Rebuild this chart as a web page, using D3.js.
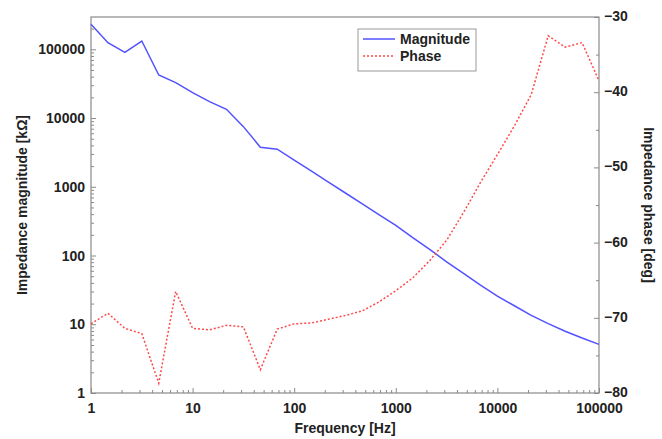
<!DOCTYPE html>
<html><head><meta charset="utf-8">
<script src="https://cdn.jsdelivr.net/npm/d3@7"></script>
<style>
html,body{margin:0;padding:0;background:#fff;}
text{font-family:"Liberation Sans",Arial,sans-serif;font-weight:bold;fill:#222;}
</style></head>
<body><svg id="c" width="662" height="439"></svg>
<script>
const freq = [1, 1.468, 2.154, 3.162, 4.642, 6.813, 10, 14.68, 21.54, 31.62, 46.42, 68.13,
  100, 146.8, 215.4, 316.2, 464.2, 681.3, 1000, 1468, 2154, 3162, 4642, 6813,
  10000, 14680, 21540, 31620, 46420, 68130, 100000];
const magnitude = [231000, 125000, 90000, 132000, 42300, 32700, 23500, 17300, 13400, 7500, 3770, 3520,
  2440, 1700, 1180, 819, 569, 395, 275, 182, 123, 81, 55, 37,
  25.7, 18.6, 13.5, 10.2, 7.9, 6.3, 5.1];
const phase = [-70.8, -69.4, -71.4, -72.1, -78.7, -66.5, -71.4, -71.6, -71.0, -71.2, -76.9, -71.5,
  -70.8, -70.7, -70.2, -69.7, -69.1, -67.9, -66.4, -64.7, -62.4, -59.7, -56.0, -52.0,
  -48.3, -44.5, -40.3, -32.5, -34.0, -33.4, -38.5];
const xTicks = [1, 10, 100, 1000, 10000, 100000];
const yTicks = [1, 10, 100, 1000, 10000, 100000];
const phaseTicks = [-80, -70, -60, -50, -40, -30];
const seriesNames = ["Magnitude", "Phase"];

const W = 662, H = 439;
const m = {l: 91, r: 63, t: 17, b: 46};
const svg = d3.select("#c");
const x = d3.scaleLog().domain([1, 100000]).range([m.l, W - m.r]);
const y = d3.scaleLog().domain([1, Math.pow(10, 5.47)]).range([H - m.b, m.t]);
const y2 = d3.scaleLinear().domain([-80, -30]).range([H - m.b, m.t]);
const axisCol = "#8a8a8a";

// frame
svg.append("rect").attr("x", m.l).attr("y", m.t)
  .attr("width", W - m.l - m.r).attr("height", H - m.t - m.b)
  .attr("fill", "none").attr("stroke", axisCol).attr("stroke-width", 1.2);

function minorLog(lo, hi) {
  const out = [];
  for (let d = lo; d < hi; d *= 10) for (let i = 2; i <= 9; i++) if (d * i <= hi) out.push(d * i);
  return out;
}
function styleAxis(g) {
  g.select(".domain").remove();
  g.selectAll("line").attr("stroke", axisCol);
  g.selectAll("text").attr("font-size", 14).attr("fill", "#222")
    .attr("font-family", "Liberation Sans, Arial, sans-serif").attr("font-weight", "bold");
}
// x axis
svg.append("g").attr("transform", `translate(0,${H - m.b})`)
  .call(d3.axisBottom(x).tickValues(minorLog(1, 100000)).tickSize(-3).tickFormat(""))
  .call(styleAxis);
svg.append("g").attr("transform", `translate(0,${H - m.b})`)
  .call(d3.axisBottom(x).tickValues(xTicks).tickSize(-5).tickPadding(10).tickFormat(d3.format("d")))
  .call(styleAxis);
// left axis
svg.append("g").attr("transform", `translate(${m.l},0)`)
  .call(d3.axisLeft(y).tickValues(minorLog(1, Math.pow(10, 5.47))).tickSize(-3).tickFormat(""))
  .call(styleAxis);
svg.append("g").attr("transform", `translate(${m.l},0)`)
  .call(d3.axisLeft(y).tickValues(yTicks).tickSize(-5).tickPadding(6).tickFormat(d3.format("d")))
  .call(styleAxis);
// right axis
svg.append("g").attr("transform", `translate(${W - m.r},0)`)
  .call(d3.axisRight(y2).tickValues([-75, -65, -55, -45, -35]).tickSize(-3).tickFormat(""))
  .call(styleAxis);
svg.append("g").attr("transform", `translate(${W - m.r},0)`)
  .call(d3.axisRight(y2).tickValues(phaseTicks).tickSize(-5).tickPadding(5).tickFormat(d3.format("d")))
  .call(styleAxis)
  .call(g => g.selectAll("text").attr("dy", "0.25em"));

// titles
svg.append("text").attr("x", (m.l + W - m.r) / 2).attr("y", 428).attr("dy", "0.35em")
  .attr("text-anchor", "middle").attr("font-size", 14).text("Frequency [Hz]");
svg.append("text").attr("transform", `translate(22,${(m.t + H - m.b) / 2}) rotate(-90)`)
  .attr("dy", "0.35em").attr("text-anchor", "middle").attr("font-size", 14)
  .text("Impedance magnitude [kΩ]");
svg.append("text").attr("transform", `translate(649,${(m.t + H - m.b) / 2}) rotate(90)`)
  .attr("dy", "0.35em").attr("text-anchor", "middle").attr("font-size", 14)
  .text("Impedance phase [deg]");

// lines
const blue = "#5252ff", red = "#ff4a4a";
svg.append("path").datum(d3.zip(freq, magnitude))
  .attr("fill", "none").attr("stroke", blue).attr("stroke-width", 1.5)
  .attr("d", d3.line().x(d => x(d[0])).y(d => y(d[1])));
svg.append("path").datum(d3.zip(freq, phase))
  .attr("fill", "none").attr("stroke", red).attr("stroke-width", 1.5)
  .attr("stroke-dasharray", "2,2")
  .attr("d", d3.line().x(d => x(d[0])).y(d => y2(d[1])));

// legend
const lg = svg.append("g");
lg.append("rect").attr("x", 358).attr("y", 29).attr("width", 118).attr("height", 42)
  .attr("fill", "#fff").attr("stroke", "#999").attr("stroke-width", 1);
[[blue, null], [red, "2,2"]].forEach((s, i) => {
  const yy = 39 + i * 17;
  lg.append("line").attr("x1", 363).attr("x2", 395).attr("y1", yy).attr("y2", yy)
    .attr("stroke", s[0]).attr("stroke-width", 1.5).attr("stroke-dasharray", s[1]);
  lg.append("text").attr("x", 400).attr("y", yy).attr("dy", "0.35em")
    .attr("font-size", 14).text(seriesNames[i]);
});
</script></body></html>
